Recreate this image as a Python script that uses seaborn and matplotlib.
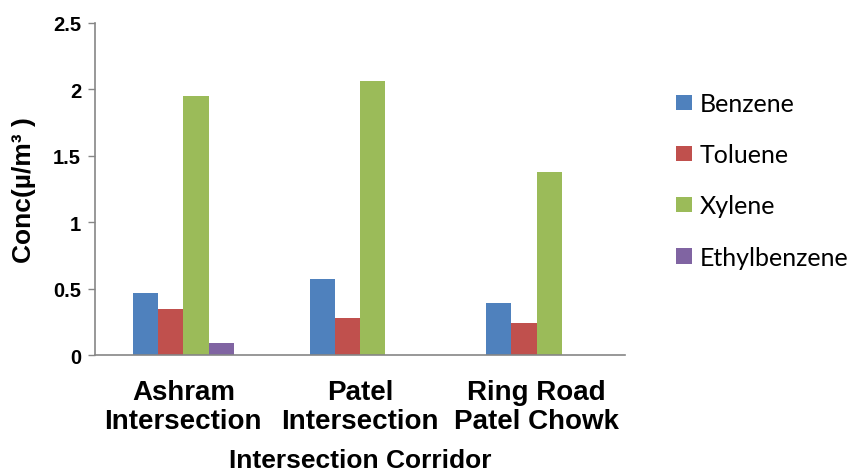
import matplotlib
matplotlib.use("Agg")
import matplotlib.pyplot as plt
import seaborn as sns
import pandas as pd

# Chart values
corridors = ["Ashram\nIntersection", "Patel\nIntersection", "Ring Road\nPatel Chowk"]
compounds = ["Benzene", "Toluene", "Xylene", "Ethylbenzene"]
benzene = [0.47, 0.57, 0.39]
toluene = [0.35, 0.28, 0.24]
xylene = [1.95, 2.06, 1.38]
ethylbenzene = [0.09, 0.0, 0.0]
colors = ["#4F81BD", "#C0504D", "#9BBB59", "#8064A2"]

sns.set_theme(style="white")
plt.rcParams["font.family"] = ["Liberation Sans", "DejaVu Sans"]
plt.rcParams["text.color"] = "black"
plt.rcParams["axes.labelcolor"] = "black"

rows = []
for name, vals in zip(compounds, [benzene, toluene, xylene, ethylbenzene]):
    for corridor, v in zip(corridors, vals):
        rows.append({"Corridor": corridor, "Compound": name, "Conc": v})
df = pd.DataFrame(rows)

fig = plt.figure(figsize=(8.53, 4.77), dpi=100)
ax = fig.add_axes([95 / 853, 1 - 356 / 477, 530 / 853, 332 / 477])

sns.barplot(
    data=df, x="Corridor", y="Conc", hue="Compound",
    hue_order=compounds, palette=colors, width=0.57,
    saturation=1, linewidth=0, ax=ax,
)

ax.set_ylim(0, 2.5)
ax.set_yticks([0, 0.5, 1, 1.5, 2, 2.5])
ax.set_yticklabels(["0", "0.5", "1", "1.5", "2", "2.5"],
                   fontsize=14.5, fontweight="bold")
ax.set_xticks(range(len(corridors)))
ax.set_xticklabels(corridors, fontsize=20, fontweight="bold", linespacing=1.17)
ax.set_xlabel("Intersection Corridor", fontsize=19, fontweight="bold", labelpad=10)
ax.set_ylabel("Conc(µ/m³ )", fontsize=19, fontweight="bold", labelpad=12)

for side in ["top", "right"]:
    ax.spines[side].set_visible(False)
for side in ["left", "bottom"]:
    ax.spines[side].set_color("#868686")
    ax.spines[side].set_linewidth(1.2)
ax.tick_params(axis="y", which="major", left=True, length=5,
               color="#868686", width=1, pad=5, labelcolor="black")
ax.tick_params(axis="x", bottom=False, pad=11, labelcolor="black")

handles, labels = ax.get_legend_handles_labels()
ax.get_legend().remove()
fig.legend(
    handles, labels, loc="upper left", bbox_to_anchor=(676 / 853, 1 - 93 / 477),
    frameon=False, borderpad=0, borderaxespad=0,
    handlelength=0.64, handleheight=0.56, handletextpad=0.3,
    labelspacing=1.13, prop={"family": "Lato", "size": 18},
)

fig.savefig("out.png", dpi=100)
